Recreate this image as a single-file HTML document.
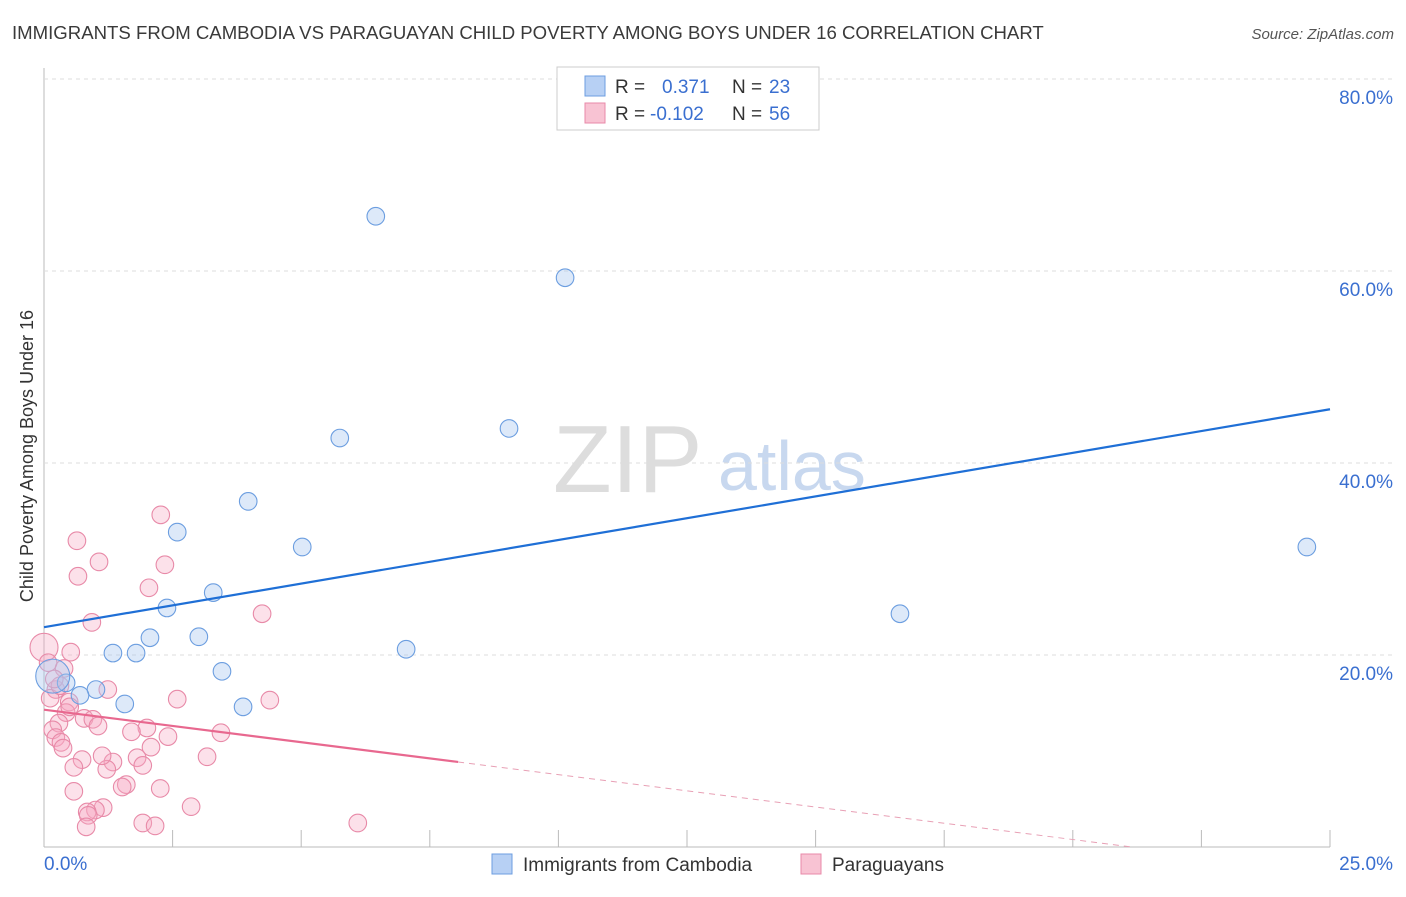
<!DOCTYPE html>
<html><head><meta charset="utf-8">
<style>
body{margin:0;background:#fff;font-family:"Liberation Sans",sans-serif;}
svg text{font-family:"Liberation Sans",sans-serif;}
</style></head>
<body>
<svg id="chart" width="1406" height="892">
<text x="12" y="39" font-size="18.6" fill="#3a3a3a">IMMIGRANTS FROM CAMBODIA VS PARAGUAYAN CHILD POVERTY AMONG BOYS UNDER 16 CORRELATION CHART</text>
<text x="1394" y="39" font-size="15" fill="#555" font-style="italic" text-anchor="end">Source: ZipAtlas.com</text>
<text x="33" y="456" font-size="18" fill="#333" text-anchor="middle" transform="rotate(-90 33 456)">Child Poverty Among Boys Under 16</text>
<text x="553" y="492" font-size="96" fill="#ddd" font-family="Liberation Serif">ZIP</text>
<text x="718" y="490" font-size="70" fill="#c8d8ef">atlas</text>
<g id="grid"></g>
<g id="marks"></g>
<g>
<rect x="557" y="67" width="262" height="63" fill="#fff" stroke="#ccc"/>
<rect x="585" y="76" width="20" height="20" fill="#b7d0f4" stroke="#6c9ee0"/>
<text x="615" y="93" font-size="19" fill="#333">R =</text><text x="662" y="93" font-size="19" fill="#3a6fd0">0.371</text>
<text x="732" y="93" font-size="19" fill="#333">N =</text><text x="769" y="93" font-size="19" fill="#3a6fd0">23</text>
<rect x="585" y="103" width="20" height="20" fill="#f8c3d3" stroke="#e88aa8"/>
<text x="615" y="120" font-size="19" fill="#333">R =</text><text x="650" y="120" font-size="19" fill="#3a6fd0">-0.102</text>
<text x="732" y="120" font-size="19" fill="#333">N =</text><text x="769" y="120" font-size="19" fill="#3a6fd0">56</text>
</g>
<g>
<rect x="492" y="854" width="20" height="20" fill="#b7d0f4" stroke="#6c9ee0"/>
<text x="523" y="871" font-size="19" fill="#333">Immigrants from Cambodia</text>
<rect x="801" y="854" width="20" height="20" fill="#f8c3d3" stroke="#e88aa8"/>
<text x="832" y="871" font-size="19" fill="#333">Paraguayans</text>
</g>
</svg>
<script>
const blueX=[6.45,10.13,5.75,9.04,3.97,2.59,5.02,3.29,2.39,3.01,2.06,1.34,1.79,7.04,3.46,0.43,0.17,1.01,0.70,1.57,3.87,16.64,24.55];
const blueY=[65.7,59.3,42.6,43.6,36.0,32.8,31.25,26.5,24.9,21.9,21.8,20.2,20.2,20.6,18.3,17.1,17.8,16.4,15.8,14.9,14.6,24.3,31.25];
const pinkX=[0.64,2.27,1.07,2.35,0.66,2.04,0.93,4.24,0.0,0.52,0.08,0.39,1.24,0.23,0.12,0.49,2.59,4.39,0.43,0.78,0.95,1.05,2.0,0.29,0.17,0.23,0.33,0.37,2.41,3.44,2.08,0.74,1.81,1.34,1.92,0.58,1.22,3.17,1.6,1.52,2.26,0.58,2.86,1.15,1.0,0.84,0.86,1.92,2.16,0.82,6.10,0.31,1.13,0.5,1.7,0.2];
const pinkY=[31.9,34.6,29.7,29.4,28.2,27.0,23.4,24.3,20.8,20.3,19.2,18.6,16.4,16.4,15.5,15.1,15.4,15.3,14.0,13.4,13.3,12.6,12.4,12.9,12.2,11.4,10.9,10.3,11.5,11.9,10.4,9.1,9.3,8.85,8.5,8.3,8.1,9.4,6.5,6.25,6.1,5.8,4.2,4.1,3.85,3.65,3.3,2.5,2.2,2.1,2.5,16.8,9.5,14.6,12.0,17.5];
const blueTrend=[22.9,45.6];
const pinkTrend=[14.3,-2.6];
const yTicks=[20,40,60,80];
const xTickLabels=["0.0%","25.0%"];
const X=v=>44+v*51.44, Y=v=>847-v*9.6;
const NS="http://www.w3.org/2000/svg";
function mk(t,a,p){const e=document.createElementNS(NS,t);for(const k in a)e.setAttribute(k,a[k]);p.appendChild(e);return e;}
const g=document.getElementById('grid'), m=document.getElementById('marks');
mk('line',{x1:44,y1:68,x2:44,y2:847,stroke:'#bbb'},g);
mk('line',{x1:44,y1:847,x2:1330,y2:847,stroke:'#bbb'},g);
for(let i=1;i<=10;i++){const l=mk('line',{x1:X(i*2.5),y1:830,x2:X(i*2.5),y2:847,stroke:'#bbb'},g);

}
yTicks.forEach(v=>{const l=mk('line',{x1:44,y1:Y(v),x2:1394,y2:Y(v),stroke:'#ddd','stroke-dasharray':'4,4'},g);


const t=mk('text',{x:1393,y:Y(v)+25,'font-size':19,fill:'#3a6fd0','text-anchor':'end'},g);t.textContent=v.toFixed(1)+'%';

});
const t0=mk('text',{x:44,y:870,'font-size':19,fill:'#3a6fd0'},g);t0.textContent=xTickLabels[0];


const t1=mk('text',{x:1393,y:870,'font-size':19,fill:'#3a6fd0','text-anchor':'end'},g);t1.textContent=xTickLabels[1];


pinkX.forEach((x,i)=>{const big=(i==8);const c=mk('circle',{cx:X(x),cy:Y(pinkY[i]),r:big?14:8.8,fill:'rgba(245,170,195,0.35)',stroke:'#e88aa8','stroke-width':1.1},m);

});
blueX.forEach((x,i)=>{const big=(i==16);const c=mk('circle',{cx:X(x),cy:Y(blueY[i]),r:big?17:8.8,fill:'rgba(170,200,240,0.4)',stroke:'#6c9ee0','stroke-width':1.1},m);

});
const bl=mk('line',{x1:X(0),y1:Y(blueTrend[0]),x2:X(25),y2:Y(blueTrend[1]),stroke:'#1f6fd6','stroke-width':2.2},m);


const slope=(pinkTrend[1]-pinkTrend[0])/25, pAt=v=>pinkTrend[0]+slope*v, xz=-pinkTrend[0]/slope;
const pl=mk('line',{x1:X(0),y1:Y(pinkTrend[0]),x2:X(8.05),y2:Y(pAt(8.05)),stroke:'#e8688f','stroke-width':2.2},m);


const pd=mk('line',{x1:X(8.05),y1:Y(pAt(8.05)),x2:X(xz),y2:Y(0),stroke:'#e8a0b5','stroke-width':1,'stroke-dasharray':'6,5'},m);


</script>
</body></html>
